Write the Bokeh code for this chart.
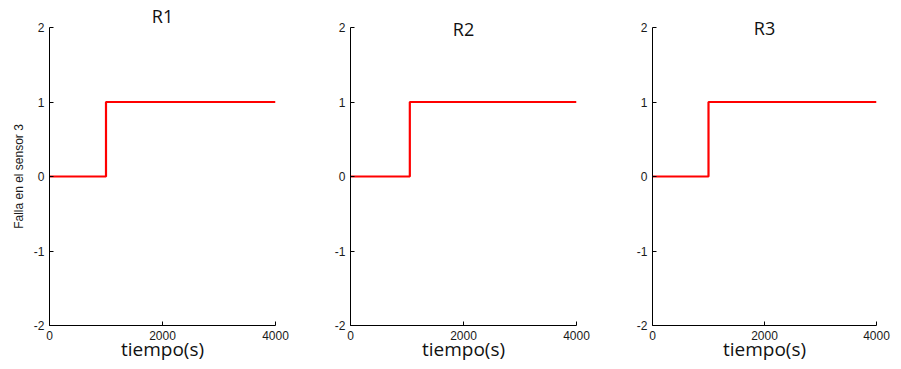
from bokeh.plotting import figure
from bokeh.layouts import row
from bokeh.models import Title, FixedTicker, Range1d, PrintfTickFormatter
from bokeh.embed import file_html
from bokeh.resources import INLINE

# Data
titulos = ["R1", "R2", "R3"]
t_inicio = 0
t_fin = 4000
t_falla = [1000, 1050, 1000]      # instante del fallo (s) en cada panel
nivel_antes = 0
nivel_despues = 1
x_ticks = [0, 2000, 4000]
y_ticks = [-2, -1, 0, 1, 2]
y_etiqueta = "Falla en el sensor 3"
x_etiqueta = "tiempo(s)"

# layout: (fig width, border_left, border_right, title offset, title standoff, xlabel offset)
paneles = [
    (300, 49, 25, -12, 0, 5),
    (300, 50, 24, 19, -26, 11),
    (301, 52, 25, 14, -24, 2),
]

figs = []
for i, (w, bl, br, toff, tstand, loff) in enumerate(paneles):
    p = figure(width=w, height=369, output_backend="svg", toolbar_location=None,
               x_range=Range1d(t_inicio, t_fin), y_range=Range1d(-2, 2),
               min_border_left=bl, min_border_right=br,
               min_border_top=27, min_border_bottom=44)
    p.title = None
    p.outline_line_color = None
    p.xgrid.visible = False
    p.ygrid.visible = False
    p.background_fill_color = "white"
    p.border_fill_color = "white"
    for ax in (p.xaxis[0], p.yaxis[0]):
        ax.major_tick_in = 4
        ax.major_tick_out = 0
        ax.minor_tick_line_color = None
        ax.axis_line_color = "black"
        ax.major_tick_line_color = "black"
        ax.major_label_text_font = "Liberation Sans"
        ax.major_label_text_font_size = "12px"
        ax.major_label_text_color = "#1a1a1a"
        ax.formatter = PrintfTickFormatter(format="%d")
    p.xaxis.ticker = FixedTicker(ticks=x_ticks)
    p.yaxis.ticker = FixedTicker(ticks=y_ticks)
    p.xaxis.major_label_standoff = 5
    p.yaxis.major_label_standoff = 5
    if i == 0:
        p.yaxis.axis_label = y_etiqueta
        p.yaxis.axis_label_text_font = "Liberation Sans"
        p.yaxis.axis_label_text_font_size = "12px"
        p.yaxis.axis_label_text_font_style = "normal"
        p.yaxis.axis_label_text_color = "#1a1a1a"
        p.yaxis.axis_label_standoff = 5

    xs = [t_inicio, t_falla[i], t_fin]
    ys = [nivel_antes, nivel_despues, nivel_despues]
    p.step(xs, ys, mode="after", line_color="#ff0000", line_width=2.2)

    p.add_layout(Title(text=titulos[i], align="center", offset=toff, standoff=tstand,
                       text_font="Open Sans", text_font_size="18px",
                       text_font_style="normal", text_color="#111111"), "above")
    p.add_layout(Title(text=x_etiqueta, align="center", offset=loff, standoff=-17,
                       text_font="Open Sans", text_font_size="19px",
                       text_font_style="normal", text_color="#111111"), "below")
    figs.append(p)

layout = row(*figs, spacing=0)
open("out.html", "w").write(file_html(layout, INLINE))
